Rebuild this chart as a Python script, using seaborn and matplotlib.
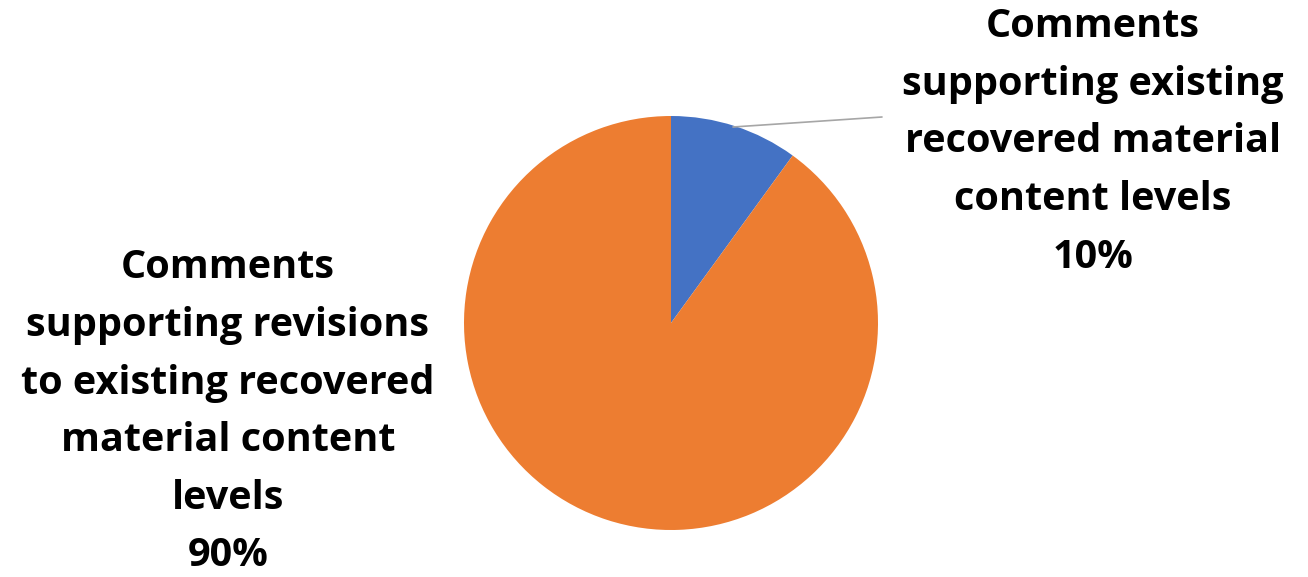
import matplotlib
matplotlib.use("Agg")
import matplotlib.pyplot as plt
import seaborn as sns
import numpy as np

categories = ["Comments\nsupporting existing\nrecovered material\ncontent levels",
              "Comments\nsupporting revisions\nto existing recovered\nmaterial content\nlevels"]
values = [10, 90]
colors = ["#4472C4", "#ED7D31"]

sns.set_theme(style="white")
plt.rcParams['font.family'] = ['Open Sans', 'DejaVu Sans']

W, H = 1308, 577
fig = plt.figure(figsize=(W/100, H/100), dpi=100)
cx, cy, r = 671, 323, 207
ax = fig.add_axes([(cx - r)/W, 1 - (cy + r)/H, 2*r/W, 2*r/H])
wedges, _ = ax.pie(values, colors=colors, startangle=90, counterclock=False,
                   radius=1.0, wedgeprops=dict(linewidth=0))
ax.set_xlim(-1, 1); ax.set_ylim(-1, 1)
ax.set_aspect('equal')
ax.axis('off')

pct = [f"{v}%" for v in values]
fs = 28.5
# right label
fig.text(1093/W, 1 - 142/H, categories[0] + "\n" + pct[0], ha='center', va='center',
         fontsize=fs, fontweight='bold', color='black', linespacing=1.62)
# left label
fig.text(228/W, 1 - 412/H, categories[1] + "\n" + pct[1], ha='center', va='center',
         fontsize=fs, fontweight='bold', color='black', linespacing=1.62)
# leader line
fig.add_artist(plt.Line2D([733/W, 882/W], [1 - 127/H, 1 - 117/H], color='#A6A6A6', lw=1.2))

fig.savefig("out.png", dpi=100, facecolor='white')
